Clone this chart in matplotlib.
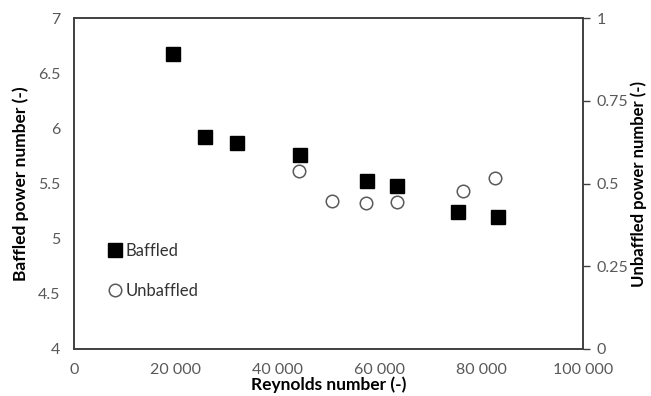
import matplotlib.pyplot as plt
from matplotlib.ticker import FuncFormatter, MultipleLocator

plt.rcParams['font.family'] = ['Lato', 'DejaVu Sans']

# Baffled data (left axis)
re_baffled = [19400, 25700, 32000, 44300, 57500, 63400, 75500, 83200]
np_baffled = [6.67, 5.92, 5.87, 5.76, 5.52, 5.48, 5.245, 5.20]

# Unbaffled data (right axis)
re_unbaffled = [44200, 50600, 57300, 63500, 76400, 82700]
np_unbaffled = [0.539, 0.448, 0.442, 0.444, 0.478, 0.518]

x_ticks = [0, 20000, 40000, 60000, 80000, 100000]

grey = '#595959'

fig = plt.figure(figsize=(6.51, 3.96), dpi=100)
ax = fig.add_axes([0.1137, 0.1187, 0.782, 0.8358])
ax2 = ax.twinx()

h1, = ax.plot(re_baffled, np_baffled, linestyle='none', marker='s',
              markersize=9.5, color='black', label='Baffled')
h2, = ax2.plot(re_unbaffled, np_unbaffled, linestyle='none', marker='o',
               markersize=9, markerfacecolor='white', markeredgecolor=grey,
               markeredgewidth=1.1, label='Unbaffled')

ax.set_xlim(0, 100000)
ax.set_ylim(4, 7)
ax2.set_ylim(0, 1)
ax.set_xticks(x_ticks)
ax.xaxis.set_major_formatter(FuncFormatter(lambda v, p: f"{int(v):,}".replace(',', ' ')))
ax.yaxis.set_major_locator(MultipleLocator(0.5))
ax.yaxis.set_major_formatter(FuncFormatter(lambda v, p: f"{v:g}"))
ax2.yaxis.set_major_locator(MultipleLocator(0.25))
ax2.yaxis.set_major_formatter(FuncFormatter(lambda v, p: f"{v:g}"))

ax.tick_params(axis='both', length=0, labelsize=11.5, labelcolor=grey, pad=10)
ax2.tick_params(axis='y', length=5, width=1, color='#404040', labelsize=11.5,
                labelcolor=grey, pad=5)

for a in (ax, ax2):
    for s in a.spines.values():
        s.set_color('#404040')
        s.set_linewidth(1.2)

ax.set_xlabel('Reynolds number (-)', fontsize=12.5, fontweight='bold', labelpad=0)
ax.set_ylabel('Baffled power number (-)', fontsize=12.5, fontweight='bold', labelpad=6)
ax2.set_ylabel('Unbaffled power number (-)', fontsize=12, fontweight='bold', labelpad=1)

ax.legend(handles=[h1, h2], loc='upper left', bbox_to_anchor=(0.042, 0.365),
          frameon=False, fontsize=12, handlelength=0.6, handletextpad=0.3,
          labelspacing=1.4, labelcolor='#333333')

fig.savefig('out.png', dpi=100)
